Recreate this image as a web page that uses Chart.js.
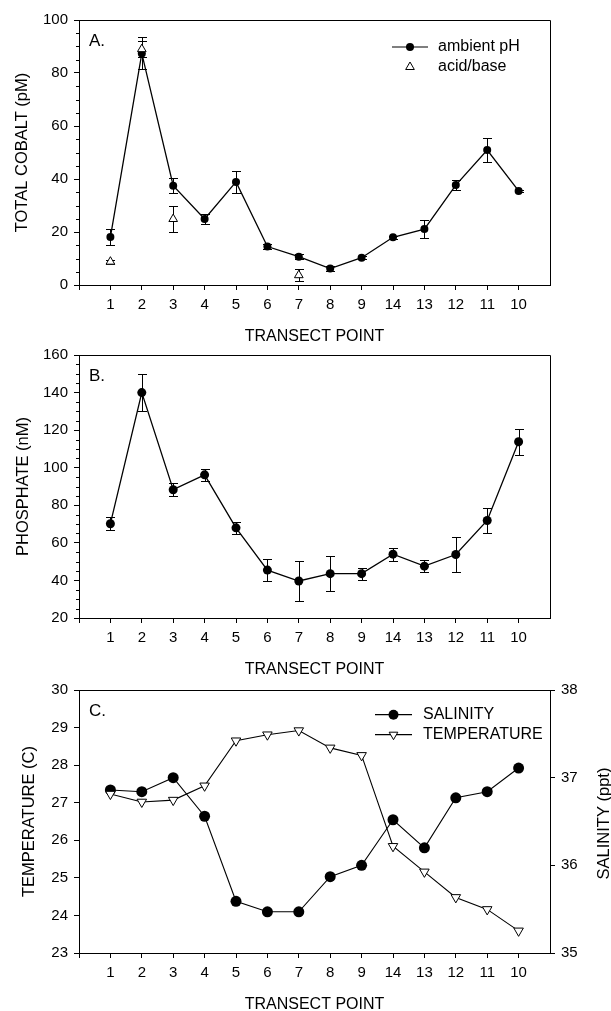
<!DOCTYPE html>
<html><head><meta charset="utf-8">
<script src="https://cdn.jsdelivr.net/npm/chart.js@4/dist/chart.umd.min.js"></script>
<style>
html,body{margin:0;padding:0;background:#fff;overflow:hidden;width:611px;height:1011px;}
canvas{position:absolute;left:0;}
</style></head><body>
<canvas id="cA" width="611" height="351" style="top:0px"></canvas>
<canvas id="cB" width="611" height="344" style="top:340px"></canvas>
<canvas id="cC" width="611" height="344" style="top:675px"></canvas>
<script>
// ---- data ----
const transectPoints = ['1','2','3','4','5','6','7','8','9','14','13','12','11','10'];
const cobaltAmbient    = [18.1, 87.4, 37.5, 24.9, 38.9, 14.5, 10.7, 6.2, 10.3, 18.0, 21.1, 37.7, 50.9, 35.5];
const cobaltAmbientErr = [2.9, 6.0, 2.9, 2.0, 4.0, 1.0, 1.0, 0.8, 0.5, 0.5, 3.3, 2.0, 4.6, 0.5];
const cobaltAcidBase    = [8.8, 89.0, 24.9, null, null, null, 3.7, null, null, null, null, null, null, null];
const cobaltAcidBaseErr = [0.8, 3.0, 4.8, null, null, null, 2.2, null, null, null, null, null, null, null];
const phosphate    = [70.2, 140.0, 88.3, 96.2, 68.0, 45.5, 39.7, 43.6, 43.6, 54.0, 47.6, 53.8, 71.9, 113.8];
const phosphateErr = [3.6, 10.0, 3.4, 3.3, 3.2, 6.0, 10.4, 9.2, 3.2, 3.4, 3.3, 9.3, 6.7, 6.8];
const salinity    = [36.86, 36.84, 37.00, 36.56, 35.59, 35.47, 35.47, 35.87, 36.00, 36.52, 36.20, 36.77, 36.84, 37.11];
const temperature = [27.23, 27.02, 27.07, 27.45, 28.65, 28.81, 28.92, 28.46, 28.26, 25.84, 25.16, 24.48, 24.16, 23.59];

const FONT = '"Liberation Sans", Arial, Helvetica, sans-serif';
Chart.defaults.font.family = FONT;
Chart.defaults.color = '#000';

const toXY = arr => arr.map((v, i) => ({x: i + 1, y: v}));

function errPlugin(sets) {
  return {
    id: 'errbars',
    beforeDatasetsDraw(chart) {
      const ctx = chart.ctx;
      ctx.save();
      ctx.strokeStyle = '#000'; ctx.lineWidth = 1;
      sets.forEach(set => {
        const meta = chart.getDatasetMeta(set.ds);
        const ys = chart.scales[meta.yAxisID];
        const vals = chart.data.datasets[set.ds].data;
        meta.data.forEach((pt, i) => {
          const v = vals[i].y, e = set.err[i];
          if (v == null || e == null) return;
          const x = Math.round(pt.x) + 0.5;
          const y1 = Math.round(ys.getPixelForValue(v + e)) + 0.5;
          const y2 = Math.round(ys.getPixelForValue(v - e)) + 0.5;
          ctx.beginPath();
          ctx.moveTo(x, y1); ctx.lineTo(x, y2);
          ctx.moveTo(x - 4.5, y1); ctx.lineTo(x + 4.5, y1);
          ctx.moveTo(x - 4.5, y2); ctx.lineTo(x + 4.5, y2);
          ctx.stroke();
        });
      });
      ctx.restore();
    }
  };
}

function marker(ctx, kind, x, y, r) {
  ctx.beginPath();
  if (kind === 'dot') {
    ctx.arc(x, y, r, 0, Math.PI * 2);
    ctx.fillStyle = '#000'; ctx.fill();
  } else {
    const rot = kind === 'down' ? Math.PI : 0;
    let a = rot;
    ctx.moveTo(x + Math.sin(a) * r, y - Math.cos(a) * r);
    a += 2 * Math.PI / 3; ctx.lineTo(x + Math.sin(a) * r, y - Math.cos(a) * r);
    a += 2 * Math.PI / 3; ctx.lineTo(x + Math.sin(a) * r, y - Math.cos(a) * r);
    ctx.closePath();
    ctx.fillStyle = '#fff'; ctx.fill();
    ctx.strokeStyle = '#000'; ctx.lineWidth = 1; ctx.stroke();
  }
}

function decorPlugin(cfg) {
  return {
    id: 'decor',
    afterDraw(chart) {
      const ctx = chart.ctx, a = chart.chartArea;
      ctx.save();
      ctx.strokeStyle = '#000'; ctx.lineWidth = 1;
      const top = Math.round(a.top) + 0.5, right = Math.round(a.right) + 0.5;
      ctx.beginPath();
      ctx.moveTo(a.left, top); ctx.lineTo(right, top);
      ctx.moveTo(right, top); ctx.lineTo(right, a.bottom);
      ctx.stroke();
      if (cfg.minorStep) {
        const ys = chart.scales.y;
        ctx.beginPath();
        for (let v = ys.min; v <= ys.max + 1e-9; v += cfg.minorStep) {
          if (Math.abs(v % cfg.majorStep) < 1e-9) continue;
          const py = Math.round(ys.getPixelForValue(v)) + 0.5;
          ctx.moveTo(a.left - 3, py); ctx.lineTo(a.left, py);
        }
        ctx.stroke();
      }
      ctx.fillStyle = '#000';
      ctx.font = '17px ' + FONT;
      ctx.textAlign = 'left'; ctx.textBaseline = 'alphabetic';
      ctx.fillText(cfg.panel, a.left + 10, a.top + 26);
      if (cfg.legend) {
        const L = cfg.legend;
        L.items.forEach((it, k) => {
          const y = a.top + L.dy + k * L.gap;
          if (it.line) {
            ctx.beginPath(); ctx.strokeStyle = '#000'; ctx.lineWidth = 1.2;
            ctx.moveTo(L.x0, y); ctx.lineTo(L.x1, y); ctx.stroke();
          }
          marker(ctx, it.kind, (L.x0 + L.x1) / 2, y, it.r);
          ctx.fillStyle = '#000';
          ctx.font = '16px ' + FONT;
          ctx.textAlign = 'left'; ctx.textBaseline = 'middle';
          ctx.fillText(it.text, L.tx, y);
        });
      }
      if (cfg.rightTitle) {
        ctx.save();
        ctx.translate(604, (a.top + a.bottom) / 2 + 2);
        ctx.rotate(-Math.PI / 2);
        ctx.font = '16.5px ' + FONT;
        ctx.textAlign = 'center'; ctx.textBaseline = 'middle';
        ctx.fillStyle = '#000';
        ctx.fillText(cfg.rightTitle, 0, 0);
        ctx.restore();
      }
      ctx.restore();
    }
  };
}

function xScale() {
  return {
    type: 'linear', min: 0, max: 15,
    afterBuildTicks: s => { s.ticks = transectPoints.map((_, i) => ({value: i + 1})); s.ticks.unshift({value: 0}); },
    afterFit: s => { s.height = 66; },
    ticks: { autoSkip: false, maxRotation: 0, padding: 6, font: {size: 15},
             callback: v => (v >= 1 && v <= transectPoints.length) ? transectPoints[v - 1] : '' },
    grid: { drawOnChartArea: false, drawTicks: true, tickLength: 5, color: '#000' },
    border: { display: true, color: '#000', width: 1 },
    title: { display: true, text: 'TRANSECT POINT', font: {size: 16}, padding: {top: 0, bottom: 4.4}, color: '#000' }
  };
}
function yScale(min, max, step, title, tpad, pos) {
  return {
    type: 'linear', min, max, position: pos || 'left',
    afterFit: s => { s.width = (pos === 'right') ? 61 : 79; },
    ticks: { stepSize: step, padding: 6, font: {size: 15} },
    grid: { drawOnChartArea: false, drawTicks: true, tickLength: 5, color: '#000' },
    border: { display: true, color: '#000', width: 1 },
    title: title ? { display: true, text: title, font: {size: 16.5}, padding: {top: tpad, bottom: 0}, color: '#000' } : {display: false}
  };
}
const baseOpts = (padTop, padRight) => ({
  responsive: false, animation: false, devicePixelRatio: 1,
  layout: { padding: { top: padTop, left: 0, right: padRight, bottom: 0 } },
  plugins: { legend: {display: false}, tooltip: {enabled: false} }
});

// ---- Panel A ----
new Chart(document.getElementById('cA'), {
  type: 'line',
  data: { datasets: [
    { label: 'ambient pH', data: toXY(cobaltAmbient), borderColor: '#000', borderWidth: 1.3,
      pointRadius: 4, pointBackgroundColor: '#000', pointBorderColor: '#000', pointBorderWidth: 0, order: 1 },
    { label: 'acid/base', data: toXY(cobaltAcidBase), showLine: false, pointStyle: 'triangle',
      pointRadius: 5, pointBackgroundColor: '#fff', pointBorderColor: '#000', pointBorderWidth: 1, order: 0 }
  ]},
  options: Object.assign(baseOpts(20, 61), {
    scales: { x: xScale(), y: yScale(0, 100, 20, 'TOTAL COBALT (pM)', 12.6) }
  }),
  plugins: [errPlugin([{ds: 0, err: cobaltAmbientErr}, {ds: 1, err: cobaltAcidBaseErr}]),
            decorPlugin({panel: 'A.', minorStep: 5, majorStep: 20,
              legend: {x0: 392, x1: 428, tx: 438, dy: 27, gap: 20,
                items: [{kind: 'dot', r: 4, line: true, text: 'ambient pH'},
                        {kind: 'up', r: 5, line: false, text: 'acid/base'}]}})]
});

// ---- Panel B ----
new Chart(document.getElementById('cB'), {
  type: 'line',
  data: { datasets: [
    { label: 'phosphate', data: toXY(phosphate), borderColor: '#000', borderWidth: 1.3,
      pointRadius: 4.5, pointBackgroundColor: '#000', pointBorderColor: '#000', pointBorderWidth: 0 }
  ]},
  options: Object.assign(baseOpts(13, 61), {
    scales: { x: xScale(), y: yScale(20, 160, 20, 'PHOSPHATE (nM)', 13.4) }
  }),
  plugins: [errPlugin([{ds: 0, err: phosphateErr}]),
            decorPlugin({panel: 'B.', minorStep: 5, majorStep: 20})]
});

// ---- Panel C ----
new Chart(document.getElementById('cC'), {
  type: 'line',
  data: { datasets: [
    { label: 'SALINITY', data: toXY(salinity), yAxisID: 'y1', borderColor: '#000', borderWidth: 1.1,
      pointRadius: 5.5, pointBackgroundColor: '#000', pointBorderColor: '#000', pointBorderWidth: 0, order: 1 },
    { label: 'TEMPERATURE', data: toXY(temperature), yAxisID: 'y', borderColor: '#000', borderWidth: 1.1,
      pointStyle: 'triangle', rotation: 180, pointRadius: 5.5, pointBackgroundColor: '#fff',
      pointBorderColor: '#000', pointBorderWidth: 1, order: 0 }
  ]},
  options: Object.assign(baseOpts(13, 0), {
    scales: { x: xScale(), y: yScale(23, 30, 1, 'TEMPERATURE (C)', 20),
              y1: yScale(35, 38, 1, null, 0, 'right') }
  }),
  plugins: [decorPlugin({panel: 'C.', rightTitle: 'SALINITY (ppt)',
              legend: {x0: 375, x1: 412, tx: 423, dy: 24.7, gap: 20,
                items: [{kind: 'dot', r: 5, line: true, text: 'SALINITY'},
                        {kind: 'down', r: 5, line: true, text: 'TEMPERATURE'}]}})]
});
</script>
</body></html>
